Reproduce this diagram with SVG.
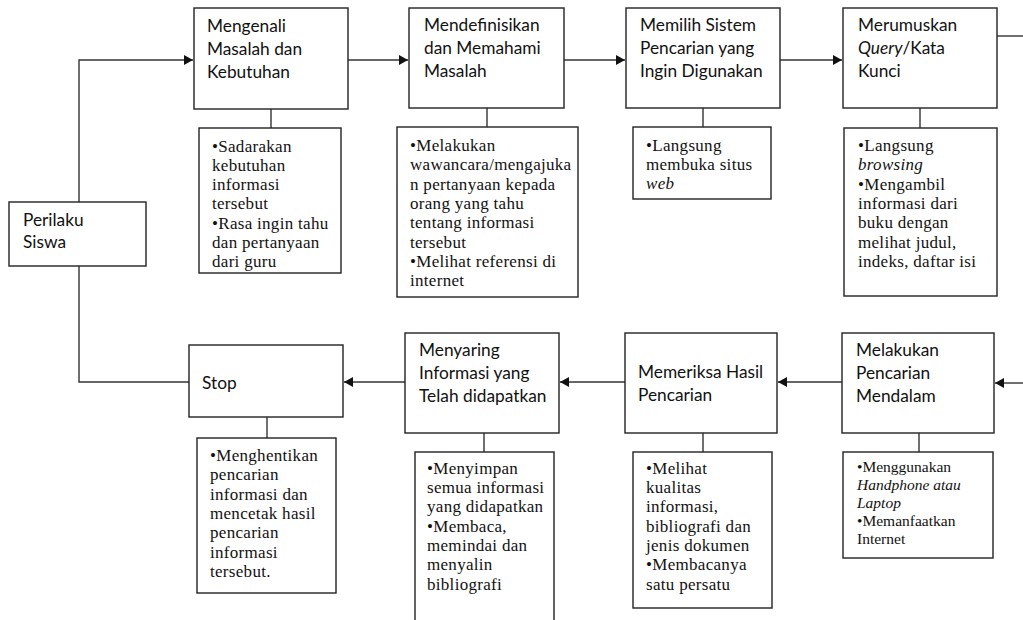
<svg xmlns="http://www.w3.org/2000/svg" width="1023" height="620" viewBox="0 0 1023 620">
<style>
.box{fill:#fff;stroke:#222;stroke-width:1.4}
.t{font-family:Lato,"Liberation Sans",sans-serif;font-size:17.3px;fill:#111}
.n{font-family:"Liberation Serif",serif;font-size:17px;fill:#111;letter-spacing:0.3px}
.ns{font-family:"Liberation Serif",serif;font-size:15.5px;fill:#111}
.i{font-style:italic}
.c{fill:none;stroke:#333;stroke-width:1.4}
</style>
<defs>
<marker id="ah" markerUnits="userSpaceOnUse" markerWidth="9" markerHeight="10" refX="9" refY="5" orient="auto">
<path d="M0,0 L9,5 L0,10 z" fill="#111"/>
</marker>
</defs>
<rect width="1023" height="620" fill="#fff"/>
<g id="connectors">
<polyline class="c" points="79,202 79,60 193,60" marker-end="url(#ah)"/>
<polyline class="c" points="79,266 79,382 189,382"/>
<line class="c" x1="348" y1="60" x2="408" y2="60" marker-end="url(#ah)"/>
<line class="c" x1="564" y1="60" x2="625" y2="60" marker-end="url(#ah)"/>
<line class="c" x1="780" y1="60" x2="842" y2="60" marker-end="url(#ah)"/>
<line class="c" x1="997" y1="36" x2="1023" y2="36"/>
<line class="c" x1="1023" y1="383" x2="995" y2="383" marker-end="url(#ah)"/>
<line class="c" x1="842" y1="382" x2="778" y2="382" marker-end="url(#ah)"/>
<line class="c" x1="625" y1="382" x2="560" y2="382" marker-end="url(#ah)"/>
<line class="c" x1="405" y1="382" x2="344" y2="382" marker-end="url(#ah)"/>
<line class="c" x1="271" y1="109" x2="271" y2="128"/>
<line class="c" x1="487" y1="108" x2="487" y2="127"/>
<line class="c" x1="703" y1="108" x2="703" y2="127"/>
<line class="c" x1="920" y1="108" x2="920" y2="128"/>
<line class="c" x1="267" y1="417" x2="267" y2="438"/>
<line class="c" x1="484" y1="433" x2="484" y2="452"/>
<line class="c" x1="703" y1="433" x2="703" y2="452"/>
<line class="c" x1="919" y1="433" x2="919" y2="452"/>
</g>
<g id="perilaku">
<rect class="box" x="9" y="202" width="137" height="64"/>
<text class="t" x="23" y="226">Perilaku</text>
<text class="t" x="23" y="248">Siswa</text>
</g>
<g id="mengenali">
<rect class="box" x="194" y="8" width="154" height="101"/>
<text class="t" x="207" y="32">Mengenali</text>
<text class="t" x="207" y="55">Masalah dan</text>
<text class="t" x="207" y="78">Kebutuhan</text>
</g>
<g id="note-mengenali">
<rect class="box" x="199" y="128" width="142" height="145"/>
<text class="n" x="212" y="152">•Sadarakan</text>
<text class="n" x="212" y="171">kebutuhan</text>
<text class="n" x="212" y="190">informasi</text>
<text class="n" x="212" y="209">tersebut</text>
<text class="n" x="212" y="229">•Rasa ingin tahu</text>
<text class="n" x="212" y="248">dan pertanyaan</text>
<text class="n" x="212" y="267">dari guru</text>
</g>
<g id="mendefinisikan">
<rect class="box" x="409" y="8" width="155" height="100"/>
<text class="t" x="424" y="31">Mendefinisikan</text>
<text class="t" x="424" y="54">dan Memahami</text>
<text class="t" x="424" y="77">Masalah</text>
</g>
<g id="note-mendefinisikan">
<rect class="box" x="397" y="127" width="181" height="170"/>
<text class="n" x="410" y="151">•Melakukan</text>
<text class="n" x="410" y="170">wawancara/mengajuka</text>
<text class="n" x="410" y="190">n pertanyaan kepada</text>
<text class="n" x="410" y="209">orang yang tahu</text>
<text class="n" x="410" y="228">tentang informasi</text>
<text class="n" x="410" y="248">tersebut</text>
<text class="n" x="410" y="267">•Melihat referensi di</text>
<text class="n" x="410" y="286">internet</text>
</g>
<g id="memilih">
<rect class="box" x="626" y="8" width="154" height="100"/>
<text class="t" x="640" y="31">Memilih Sistem</text>
<text class="t" x="640" y="54">Pencarian yang</text>
<text class="t" x="640" y="77">Ingin Digunakan</text>
</g>
<g id="note-memilih">
<rect class="box" x="633" y="127" width="138" height="72"/>
<text class="n" x="646" y="151">•Langsung</text>
<text class="n" x="646" y="170">membuka situs</text>
<text class="n i" x="646" y="189">web</text>
</g>
<g id="merumuskan">
<rect class="box" x="843" y="8" width="154" height="100"/>
<text class="t" x="858" y="31">Merumuskan</text>
<text class="t" x="858" y="54"><tspan class="i">Query</tspan>/Kata</text>
<text class="t" x="858" y="77">Kunci</text>
</g>
<g id="note-merumuskan">
<rect class="box" x="844" y="128" width="153" height="168"/>
<text class="n" x="858" y="151">•Langsung</text>
<text class="n i" x="858" y="170">browsing</text>
<text class="n" x="858" y="190">•Mengambil</text>
<text class="n" x="858" y="209">informasi dari</text>
<text class="n" x="858" y="228">buku dengan</text>
<text class="n" x="858" y="248">melihat judul,</text>
<text class="n" x="858" y="267">indeks, daftar isi</text>
</g>
<g id="stop">
<rect class="box" x="189" y="345" width="154" height="72"/>
<text class="t" x="202" y="389">Stop</text>
</g>
<g id="note-stop">
<rect class="box" x="197" y="438" width="139" height="155"/>
<text class="n" x="210" y="461">•Menghentikan</text>
<text class="n" x="210" y="480">pencarian</text>
<text class="n" x="210" y="500">informasi dan</text>
<text class="n" x="210" y="519">mencetak hasil</text>
<text class="n" x="210" y="538">pencarian</text>
<text class="n" x="210" y="558">informasi</text>
<text class="n" x="210" y="577">tersebut.</text>
</g>
<g id="menyaring">
<rect class="box" x="405" y="333" width="154" height="100"/>
<text class="t" x="419" y="356">Menyaring</text>
<text class="t" x="419" y="379">Informasi yang</text>
<text class="t" x="419" y="402">Telah didapatkan</text>
</g>
<g id="note-menyaring">
<rect class="box" x="415" y="452" width="139" height="175"/>
<text class="n" x="427" y="474">•Menyimpan</text>
<text class="n" x="427" y="493">semua informasi</text>
<text class="n" x="427" y="512">yang didapatkan</text>
<text class="n" x="427" y="532">•Membaca,</text>
<text class="n" x="427" y="551">memindai dan</text>
<text class="n" x="427" y="570">menyalin</text>
<text class="n" x="427" y="590">bibliografi</text>
</g>
<g id="memeriksa">
<rect class="box" x="625" y="333" width="152" height="100"/>
<text class="t" x="638" y="378">Memeriksa Hasil</text>
<text class="t" x="638" y="401">Pencarian</text>
</g>
<g id="note-memeriksa">
<rect class="box" x="633" y="452" width="139" height="156"/>
<text class="n" x="646" y="474">•Melihat</text>
<text class="n" x="646" y="493">kualitas</text>
<text class="n" x="646" y="512">informasi,</text>
<text class="n" x="646" y="532">bibliografi dan</text>
<text class="n" x="646" y="551">jenis dokumen</text>
<text class="n" x="646" y="570">•Membacanya</text>
<text class="n" x="646" y="590">satu persatu</text>
</g>
<g id="melakukan">
<rect class="box" x="842" y="333" width="152" height="100"/>
<text class="t" x="856" y="356">Melakukan</text>
<text class="t" x="856" y="379">Pencarian</text>
<text class="t" x="856" y="402">Mendalam</text>
</g>
<g id="note-melakukan">
<rect class="box" x="843" y="452" width="150" height="106"/>
<text class="ns" x="857" y="472">•Menggunakan</text>
<text class="ns i" x="857" y="490">Handphone atau</text>
<text class="ns i" x="857" y="508">Laptop</text>
<text class="ns" x="857" y="526">•Memanfaatkan</text>
<text class="ns" x="857" y="544">Internet</text>
</g>
</svg>
